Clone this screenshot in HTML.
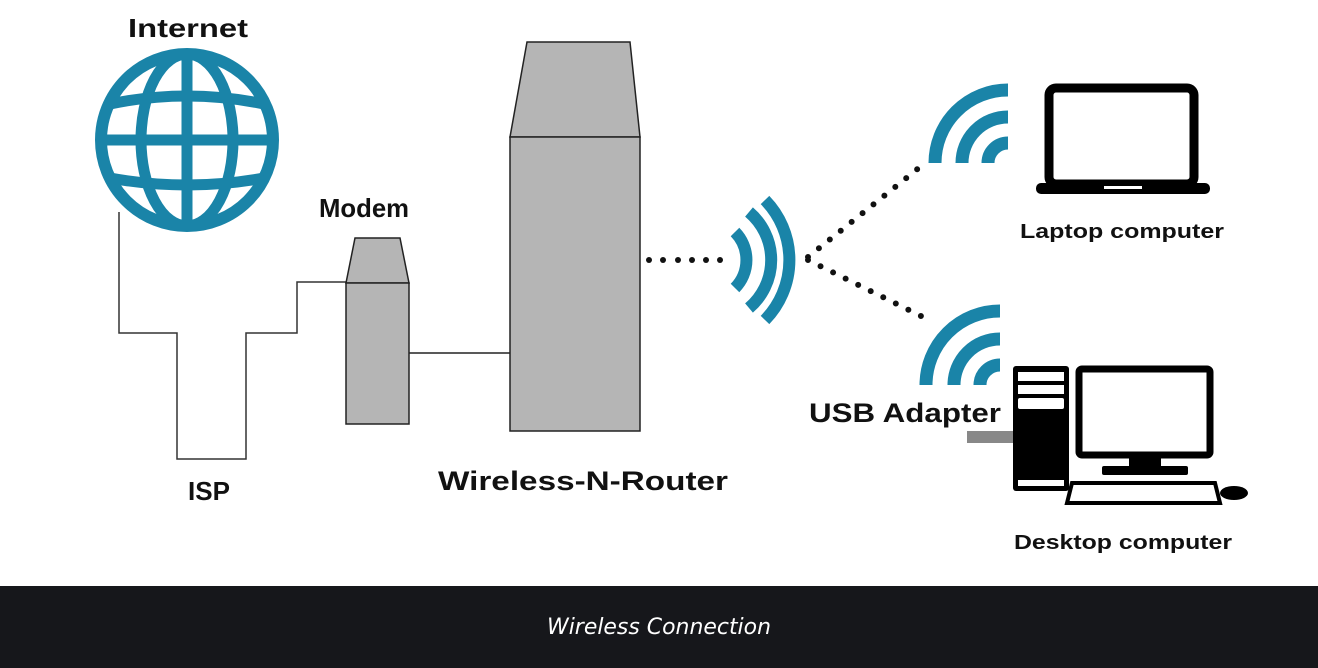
<!DOCTYPE html>
<html><head><meta charset="utf-8"><style>
html,body{margin:0;padding:0;background:#fff;}
svg{display:block}
</style></head><body>
<svg width="1318" height="668" viewBox="0 0 1318 668" xmlns="http://www.w3.org/2000/svg">
<rect width="1318" height="586" fill="#fff"/>
<!-- Globe -->
<g fill="none" stroke="#1a84a8" stroke-width="11">
<circle cx="187" cy="140" r="86" stroke-width="12"/>
<line x1="187" y1="54" x2="187" y2="226"/>
<line x1="101" y1="140" x2="273" y2="140"/>
<ellipse cx="187" cy="140" rx="46" ry="86"/>
<path d="M110 104 Q187 88 264 104"/>
<path d="M110 178 Q187 192 264 178"/>
</g>
<!-- ISP line -->
<polyline points="119,212 119,333 177,333 177,459 246,459 246,333 297,333 297,282 346,282" fill="none" stroke="#333" stroke-width="1.5"/>
<!-- Modem -->
<polygon points="355,238 400,238 409,283 346,283" fill="#b5b5b5" stroke="#222" stroke-width="1.5"/>
<rect x="346" y="283" width="63" height="141" fill="#b5b5b5" stroke="#222" stroke-width="1.5"/>
<line x1="409" y1="353" x2="510" y2="353" stroke="#222" stroke-width="1.5"/>
<!-- Router -->
<polygon points="527,42 630,42 640,137 510,137" fill="#b5b5b5" stroke="#222" stroke-width="1.5"/>
<rect x="510" y="137" width="130" height="294" fill="#b5b5b5" stroke="#222" stroke-width="1.5"/>
<!-- dots -->
<g fill="#111">
<circle cx="649" cy="260" r="3"/><circle cx="663" cy="260" r="3"/><circle cx="678" cy="260" r="3"/><circle cx="692" cy="260" r="3"/><circle cx="706" cy="260" r="3"/><circle cx="720" cy="260" r="3"/>
</g>
<g stroke="#111" stroke-width="6" stroke-linecap="round" stroke-dasharray="0 14" fill="none">
<line x1="808" y1="257" x2="920" y2="167"/>
<line x1="808" y1="260" x2="925" y2="318"/>
</g>
<!-- center wifi -->
<g fill="none" stroke="#1a84a8" stroke-width="12">
<path d="M735 232 A40 40 0 0 1 735 288"/>
<path d="M749 212 A63 63 0 0 1 749 308"/>
<path d="M765 200 A86 86 0 0 1 765 320" />
</g>
<!-- laptop wifi -->
<g fill="none" stroke="#1a84a8" stroke-width="13">
<path d="M988 163 A20 20 0 0 1 1008 143"/>
<path d="M962 163 A46 46 0 0 1 1008 117"/>
<path d="M935 163 A73 73 0 0 1 1008 90"/>
</g>
<!-- desktop wifi -->
<g fill="none" stroke="#1a84a8" stroke-width="13">
<path d="M980 385 A20 20 0 0 1 1000 365"/>
<path d="M954 385 A46 46 0 0 1 1000 339"/>
<path d="M926 385 A74 74 0 0 1 1000 311"/>
</g>
<!-- laptop -->
<rect x="1049" y="88" width="145" height="96" rx="7" fill="#fff" stroke="#000" stroke-width="9"/>
<rect x="1036" y="183" width="174" height="11" rx="5" fill="#000"/>
<rect x="1104" y="186" width="38" height="3" fill="#fff"/>
<!-- desktop -->
<rect x="967" y="431" width="48" height="12" fill="#888"/>
<rect x="1013" y="366" width="56" height="125" rx="3" fill="#000"/>
<rect x="1018" y="372" width="46" height="9" fill="#fff"/>
<rect x="1018" y="385" width="46" height="9" fill="#fff"/>
<rect x="1018" y="398" width="46" height="11" rx="2" fill="#fff"/>
<rect x="1018" y="480" width="46" height="6" fill="#fff"/>
<rect x="1079" y="369" width="131" height="86" rx="3" fill="#fff" stroke="#000" stroke-width="7"/>
<rect x="1129" y="458" width="32" height="9" fill="#000"/>
<rect x="1102" y="466" width="86" height="9" rx="2" fill="#000"/>
<polygon points="1072,483 1215,483 1220,503 1067,503" fill="#fff" stroke="#000" stroke-width="4"/>
<ellipse cx="1234" cy="493" rx="14" ry="7" fill="#000"/>
<!-- labels -->
<g font-family="Liberation Sans, sans-serif" font-weight="bold" fill="#111" text-anchor="middle">
<text x="188" y="37" font-size="26" textLength="120" lengthAdjust="spacingAndGlyphs">Internet</text>
<text x="364" y="217" font-size="26" textLength="90" lengthAdjust="spacingAndGlyphs">Modem</text>
<text x="209" y="500" font-size="26">ISP</text>
<text x="583" y="490" font-size="27" textLength="290" lengthAdjust="spacingAndGlyphs">Wireless-N-Router</text>
<text x="1122" y="238" font-size="20" textLength="204" lengthAdjust="spacingAndGlyphs">Laptop computer</text>
<text x="905" y="422" font-size="27" textLength="192" lengthAdjust="spacingAndGlyphs">USB Adapter</text>
<text x="1123" y="549" font-size="20" textLength="218" lengthAdjust="spacingAndGlyphs">Desktop computer</text>
</g>
<!-- footer -->
<rect x="0" y="586" width="1318" height="82" fill="#16171b"/>
<text x="659" y="634" font-family="DejaVu Sans, Liberation Sans, sans-serif" font-style="italic" font-size="22" fill="#fff" text-anchor="middle" textLength="224" lengthAdjust="spacingAndGlyphs">Wireless Connection</text>
</svg>
</body></html>
